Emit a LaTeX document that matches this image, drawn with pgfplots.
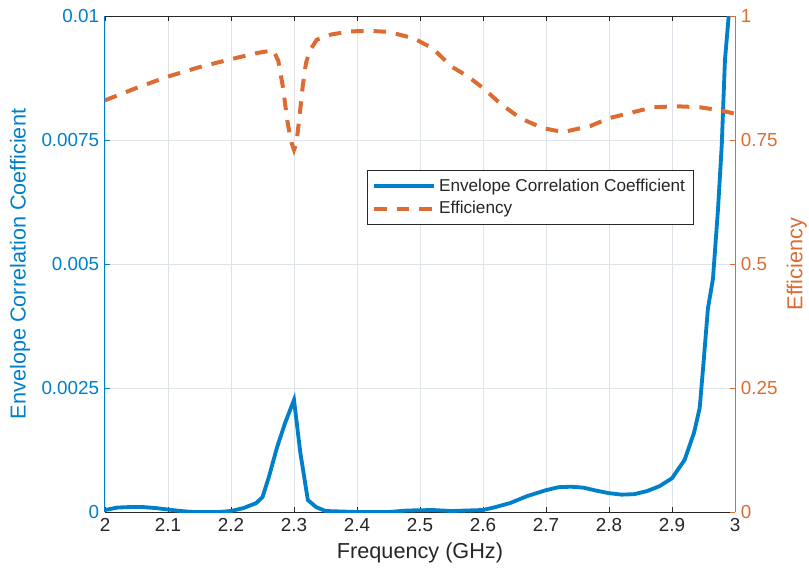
\documentclass[border=0pt]{standalone}
\usepackage{pgfplots}
\pgfplotsset{compat=1.18}
\usepackage{fontspec}
\setmainfont{Liberation Sans}
\definecolor{mblue}{RGB}{0,128,200}
\definecolor{morange}{RGB}{220,108,50}
\definecolor{gridc}{RGB}{222,227,233}
\definecolor{axc}{RGB}{38,38,38}
\begin{document}
\begin{tikzpicture}
\pgfplotsset{
  every axis/.append style={
    width=378pt, height=297.6pt, scale only axis,
    xmin=2, xmax=3,
    font=\fontsize{11.3}{13}\selectfont,
    /pgf/number format/assume math mode=true,
    tick align=inside,
    major tick length=3pt,
    tick style={line width=0.5pt},
  },
}
\begin{axis}[
  name=ax,
  ymin=0, ymax=0.01,
  axis y line*=left,
  axis x line*=box,
  xtick={2,2.1,...,3.01},
  xticklabels={2,2.1,2.2,2.3,2.4,2.5,2.6,2.7,2.8,2.9,3},
  ytick={0,0.0025,0.005,0.0075,0.01},
  yticklabels={0,0.0025,0.005,0.0075,0.01},
  scaled y ticks=false,
  grid=major,
  grid style={gridc, line width=0.5pt},
  x axis line style={axc, line width=0.5pt},
  y axis line style={mblue, line width=0.6pt},
  ytick style={mblue},
  xtick style={axc},
  yticklabel style={mblue},
  xticklabel style={axc},
  xlabel={Frequency (GHz)},
  xlabel style={axc, font=\fontsize{13}{15}\selectfont, at={(axis description cs:0.5,-0.083)}, anchor=center},
  ylabel={Envelope Correlation Coefficient},
  ylabel style={mblue, font=\fontsize{13}{15}\selectfont, at={(axis description cs:-0.135,0.5)}, anchor=center},
  clip=true,
]
\addplot[mblue, line width=2.3pt] coordinates {
(2.00,0.00004) (2.02,0.00009) (2.04,0.0001) (2.06,0.0001) (2.08,0.00008)
(2.10,0.00005) (2.12,0.00002) (2.14,0.0) (2.16,0.0) (2.18,0.0)
(2.20,0.00002) (2.22,0.00008) (2.24,0.00018) (2.25,0.0003) (2.26,0.0007)
(2.273,0.0013) (2.286,0.0018) (2.30,0.00226) (2.31,0.0012) (2.322,0.00024)
(2.335,0.0001) (2.35,0.00002) (2.40,0.0) (2.45,0.0) (2.48,0.00003)
(2.52,0.00004) (2.55,0.00002) (2.60,0.00004) (2.62,0.0001) (2.643,0.00018)
(2.67,0.00032) (2.70,0.00044) (2.72,0.0005) (2.74,0.00051) (2.76,0.00049)
(2.78,0.00043) (2.80,0.00038) (2.82,0.00035) (2.84,0.00036) (2.86,0.00042)
(2.88,0.00052) (2.90,0.00068) (2.92,0.00105) (2.935,0.0016) (2.944,0.0021)
(2.95,0.0030) (2.957,0.0041) (2.965,0.0047) (2.973,0.0061) (2.979,0.0074)
(2.984,0.0091) (2.99,0.0100)
};
\end{axis}
\begin{axis}[
  ymin=0, ymax=1,
  axis y line*=right,
  axis x line=none,
  ytick={0,0.25,0.5,0.75,1},
  yticklabels={0,0.25,0.5,0.75,1},
  y axis line style={morange, line width=0.6pt},
  ytick style={morange},
  yticklabel style={morange},
  ylabel={Efficiency},
  ylabel style={morange, font=\fontsize{13}{15}\selectfont, at={(axis description cs:1.098,0.5)}, anchor=center, rotate=0},
  legend style={at={(0.416,0.6895)}, anchor=north west, draw=axc, line width=0.5pt,
    font=\fontsize{10.3}{12}\selectfont, text=axc, inner xsep=3pt, inner ysep=3pt, row sep=0.5pt,
    cells={anchor=west}},
  legend image code/.code={\draw[#1] (0cm,0cm) -- (1.25cm,0cm);},
]
\addlegendimage{mblue, line width=2.3pt}
\addlegendentry{Envelope Correlation Coefficient}
\addplot[morange, line width=2.4pt, dash pattern=on 7.5pt off 6pt] coordinates {
(2.00,0.83) (2.05,0.855) (2.10,0.878) (2.15,0.897) (2.20,0.913) (2.24,0.925)
(2.267,0.931) (2.275,0.91) (2.282,0.86) (2.29,0.784) (2.296,0.745) (2.30,0.73)
(2.304,0.745) (2.309,0.80) (2.314,0.86) (2.319,0.905) (2.325,0.93) (2.336,0.952)
(2.36,0.963) (2.39,0.969) (2.42,0.970) (2.45,0.968) (2.49,0.955) (2.52,0.935)
(2.55,0.898) (2.575,0.879) (2.60,0.855) (2.627,0.824) (2.659,0.794) (2.695,0.774)
(2.727,0.766) (2.77,0.778) (2.80,0.794) (2.838,0.806) (2.87,0.816) (2.908,0.818)
(2.944,0.816) (2.976,0.81) (3.00,0.803)
};
\addlegendentry{Efficiency}
\end{axis}
\pgfresetboundingbox
\path (ax.south west) ++(-63pt,-36.6pt) rectangle ([xshift=44.4pt,yshift=9.6pt]ax.north east);
\end{tikzpicture}
\end{document}
